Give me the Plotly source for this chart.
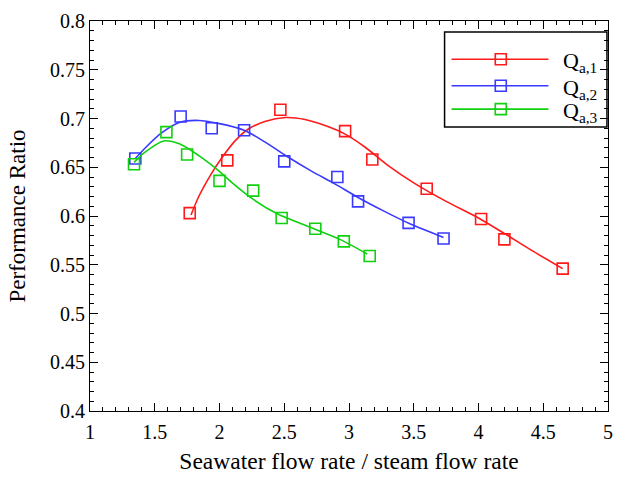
import plotly.graph_objects as go

# Measured performance ratio vs. seawater/steam flow-rate ratio
qa1_x = [1.77, 2.06, 2.47, 2.97, 3.18, 3.60, 4.02, 4.20, 4.65]
qa1_y = [0.603, 0.657, 0.709, 0.687, 0.658, 0.628, 0.597, 0.576, 0.546]

qa2_x = [1.35, 1.70, 1.94, 2.19, 2.50, 2.91, 3.07, 3.46, 3.73]
qa2_y = [0.659, 0.702, 0.690, 0.688, 0.656, 0.640, 0.615, 0.593, 0.577]

qa3_x = [1.34, 1.59, 1.75, 2.00, 2.26, 2.48, 2.74, 2.96, 3.16]
qa3_y = [0.653, 0.686, 0.663, 0.636, 0.626, 0.598, 0.587, 0.574, 0.559]

# Smoothed trend curves for each series
fit1_x = [1.78, 1.84, 1.94, 2.02, 2.12, 2.22, 2.35, 2.51, 2.66, 2.81, 2.97, 3.12, 3.30, 3.50, 3.75, 4.00, 4.20, 4.42, 4.65]
fit1_y = [0.601, 0.620, 0.644, 0.660, 0.677, 0.689, 0.697, 0.701, 0.699, 0.693, 0.684, 0.671, 0.652, 0.634, 0.615, 0.598, 0.582, 0.564, 0.546]

fit2_x = [1.35, 1.42, 1.55, 1.69, 1.84, 1.99, 2.19, 2.35, 2.51, 2.71, 2.89, 3.07, 3.27, 3.47, 3.73]
fit2_y = [0.659, 0.669, 0.685, 0.696, 0.698, 0.695, 0.688, 0.676, 0.662, 0.646, 0.633, 0.619, 0.605, 0.592, 0.578]

fit3_x = [1.34, 1.42, 1.57, 1.69, 1.84, 1.97, 2.09, 2.25, 2.45, 2.71, 2.93, 3.14]
fit3_y = [0.655, 0.665, 0.677, 0.674, 0.662, 0.649, 0.635, 0.618, 0.602, 0.588, 0.576, 0.561]

names = ["Q<sub>a,1</sub>", "Q<sub>a,2</sub>", "Q<sub>a,3</sub>"]
colors = ["#ff1a1a", "#3a3aff", "#10d010"]

x_ticks = [1, 1.5, 2, 2.5, 3, 3.5, 4, 4.5, 5]
y_ticks = [0.4, 0.45, 0.5, 0.55, 0.6, 0.65, 0.7, 0.75, 0.8]

FONT = "Liberation Serif, Times New Roman, serif"

fig = go.Figure()

series = [
    (qa1_x, qa1_y, fit1_x, fit1_y),
    (qa2_x, qa2_y, fit2_x, fit2_y),
    (qa3_x, qa3_y, fit3_x, fit3_y),
]
for (px, py, fx, fy), name, c in zip(series, names, colors):
    fig.add_trace(go.Scatter(x=fx, y=fy, mode="lines", line=dict(color=c, width=1.6, shape="spline", smoothing=0.8),
                             showlegend=False, hoverinfo="skip"))
    fig.add_trace(go.Scatter(x=px, y=py, mode="markers", name=name, showlegend=False,
                             marker=dict(symbol="square-open", size=11, color=c, line=dict(width=1.6, color=c))))

# Legend drawn on an overlay axis spanning [0, 1]
leg_y = [0.902, 0.834, 0.774]
for name, c, ly in zip(names, colors, leg_y):
    fig.add_trace(go.Scatter(x=[0.698, 0.885], y=[ly, ly], mode="lines", xaxis="x2", yaxis="y2",
                             line=dict(color=c, width=1.6), showlegend=False, hoverinfo="skip"))
    fig.add_trace(go.Scatter(x=[0.793], y=[ly], mode="markers", xaxis="x2", yaxis="y2",
                             marker=dict(symbol="square-open", size=11, color=c, line=dict(width=1.6, color=c)),
                             showlegend=False, hoverinfo="skip"))
    fig.add_annotation(x=0.91, y=ly - 0.008, xref="x2", yref="y2", text=name,
                       showarrow=False, xanchor="left", yanchor="middle",
                       font=dict(family=FONT, size=22, color="black"))

fig.add_shape(type="rect", xref="paper", yref="paper", x0=0.6845, x1=0.998, y0=0.728, y1=0.972,
              line=dict(color="black", width=1.5), fillcolor="rgba(0,0,0,0)")

axis_common = dict(
    showgrid=False, zeroline=False, showline=True, linecolor="black", linewidth=1.2,
    mirror="ticks", ticks="inside", ticklen=8, tickwidth=1, tickcolor="black",
    tickfont=dict(family=FONT, size=20, color="black"),
)

fig.update_layout(
    width=623, height=480,
    margin=dict(l=90, r=10, t=18, b=65),
    paper_bgcolor="white", plot_bgcolor="white",
    showlegend=False,
    xaxis=dict(range=[1, 5], tickvals=x_ticks, ticktext=[f"{v:g}" for v in x_ticks],
               ticklabelstandoff=3,
               minor=dict(dtick=0.1, ticks="inside", ticklen=4, tickcolor="black"),
               title=dict(text="Seawater flow rate / steam flow rate", standoff=10,
                          font=dict(family=FONT, size=23.5, color="black")),
               **axis_common),
    yaxis=dict(range=[0.4, 0.8], tickvals=y_ticks, ticktext=[f"{v:g}" for v in y_ticks],
               minor=dict(dtick=0.01, ticks="inside", ticklen=4, tickcolor="black"),
               title=dict(text="Performance Ratio", standoff=17,
                          font=dict(family=FONT, size=23, color="black")),
               **axis_common),
    xaxis2=dict(overlaying="x", range=[0, 1], visible=False),
    yaxis2=dict(overlaying="y", range=[0, 1], visible=False),
)

fig.write_html("out.html")
